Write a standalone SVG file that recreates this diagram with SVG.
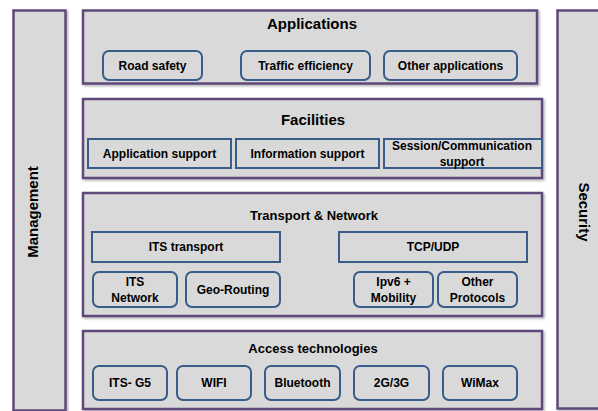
<svg xmlns="http://www.w3.org/2000/svg" width="598" height="411" viewBox="0 0 598 411">
<style>
.panel{fill:#d9d9d9;stroke:#5f497a;stroke-width:2.5}
.box{fill:#d9d9d9;stroke:#385d8a;stroke-width:2}
.title{font-family:"Liberation Sans",Arial,sans-serif;font-weight:bold;font-size:15px;fill:#000;text-anchor:middle}
.sub{font-family:"Liberation Sans",Arial,sans-serif;font-weight:bold;font-size:13px;fill:#000;text-anchor:middle}
.lbl{font-family:"Liberation Sans",Arial,sans-serif;font-weight:bold;font-size:12px;fill:#000;text-anchor:middle}
</style>
<defs>
<filter id="sh" x="-5%" y="-5%" width="110%" height="115%">
<feDropShadow dx="1.5" dy="1.5" stdDeviation="1" flood-color="#000" flood-opacity="0.3"/>
</filter>
</defs>
<rect width="598" height="411" fill="#fff"/>
<g id="management">
<rect class="panel" x="13.5" y="10.5" width="52" height="400" filter="url(#sh)"/>
<text class="title" transform="translate(38,212) rotate(-90)">Management</text>
</g>
<g id="security">
<rect class="panel" x="557.5" y="10.5" width="50" height="398" filter="url(#sh)"/>
<text class="title" transform="translate(579,212) rotate(90)">Security</text>
</g>
<g id="applications">
<rect class="panel" x="83" y="10.5" width="454" height="73" filter="url(#sh)"/>
<text class="title" x="312" y="29">Applications</text>
</g>
<g id="road-safety">
<rect class="box" x="103" y="51" width="99" height="29" rx="6"/>
<text class="lbl" x="152.5" y="70">Road safety</text>
</g>
<g id="traffic-efficiency">
<rect class="box" x="241" y="51" width="129" height="29" rx="6"/>
<text class="lbl" x="305.5" y="70">Traffic efficiency</text>
</g>
<g id="other-applications">
<rect class="box" x="384" y="51" width="133" height="29" rx="6"/>
<text class="lbl" x="450.5" y="70">Other applications</text>
</g>
<g id="facilities">
<rect class="panel" x="83" y="99" width="459" height="79" filter="url(#sh)"/>
<text class="title" x="313" y="125">Facilities</text>
</g>
<g id="application-support">
<rect class="box" x="88" y="139" width="143" height="29"/>
<text class="lbl" x="159.5" y="158">Application support</text>
</g>
<g id="information-support">
<rect class="box" x="236" y="139" width="143" height="29"/>
<text class="lbl" x="307.5" y="158">Information support</text>
</g>
<g id="session-support">
<rect class="box" x="384" y="139" width="158" height="29"/>
<text class="lbl" x="462" y="150">Session/Communication</text>
<text class="lbl" x="462" y="166">support</text>
</g>
<g id="transport-network">
<rect class="panel" x="83" y="193" width="459" height="123" filter="url(#sh)"/>
<text class="sub" x="314" y="220">Transport &amp; Network</text>
</g>
<g id="its-transport">
<rect class="box" x="92" y="232" width="188" height="30"/>
<text class="lbl" x="186" y="251">ITS transport</text>
</g>
<g id="its-network">
<rect class="box" x="93" y="272" width="84" height="35" rx="6"/>
<text class="lbl" x="135" y="286">ITS</text>
<text class="lbl" x="135" y="302">Network</text>
</g>
<g id="geo-routing">
<rect class="box" x="186" y="272" width="94" height="35" rx="6"/>
<text class="lbl" x="233" y="294">Geo-Routing</text>
</g>
<g id="tcp-udp">
<rect class="box" x="339" y="232" width="188" height="30"/>
<text class="lbl" x="433" y="251">TCP/UDP</text>
</g>
<g id="ipv6-mobility">
<rect class="box" x="354" y="272" width="79" height="35" rx="6"/>
<text class="lbl" x="393.5" y="286">Ipv6 +</text>
<text class="lbl" x="393.5" y="302">Mobility</text>
</g>
<g id="other-protocols">
<rect class="box" x="438" y="272" width="79" height="35" rx="6"/>
<text class="lbl" x="477.5" y="286">Other</text>
<text class="lbl" x="477.5" y="302">Protocols</text>
</g>
<g id="access-technologies">
<rect class="panel" x="83" y="331" width="459" height="78" filter="url(#sh)"/>
<text class="sub" x="313" y="353">Access technologies</text>
</g>
<g id="its-g5">
<rect class="box" x="93" y="366" width="74" height="34" rx="6"/>
<text class="lbl" x="130" y="387">ITS- G5</text>
</g>
<g id="wifi">
<rect class="box" x="177" y="366" width="74" height="34" rx="6"/>
<text class="lbl" x="214" y="387">WIFI</text>
</g>
<g id="bluetooth">
<rect class="box" x="265" y="366" width="75" height="34" rx="6"/>
<text class="lbl" x="302.5" y="387">Bluetooth</text>
</g>
<g id="g2g3">
<rect class="box" x="354" y="366" width="75" height="34" rx="6"/>
<text class="lbl" x="391.5" y="387">2G/3G</text>
</g>
<g id="wimax">
<rect class="box" x="443" y="366" width="74" height="34" rx="6"/>
<text class="lbl" x="480" y="387">WiMax</text>
</g>
<g id="connectors"></g>
</svg>
